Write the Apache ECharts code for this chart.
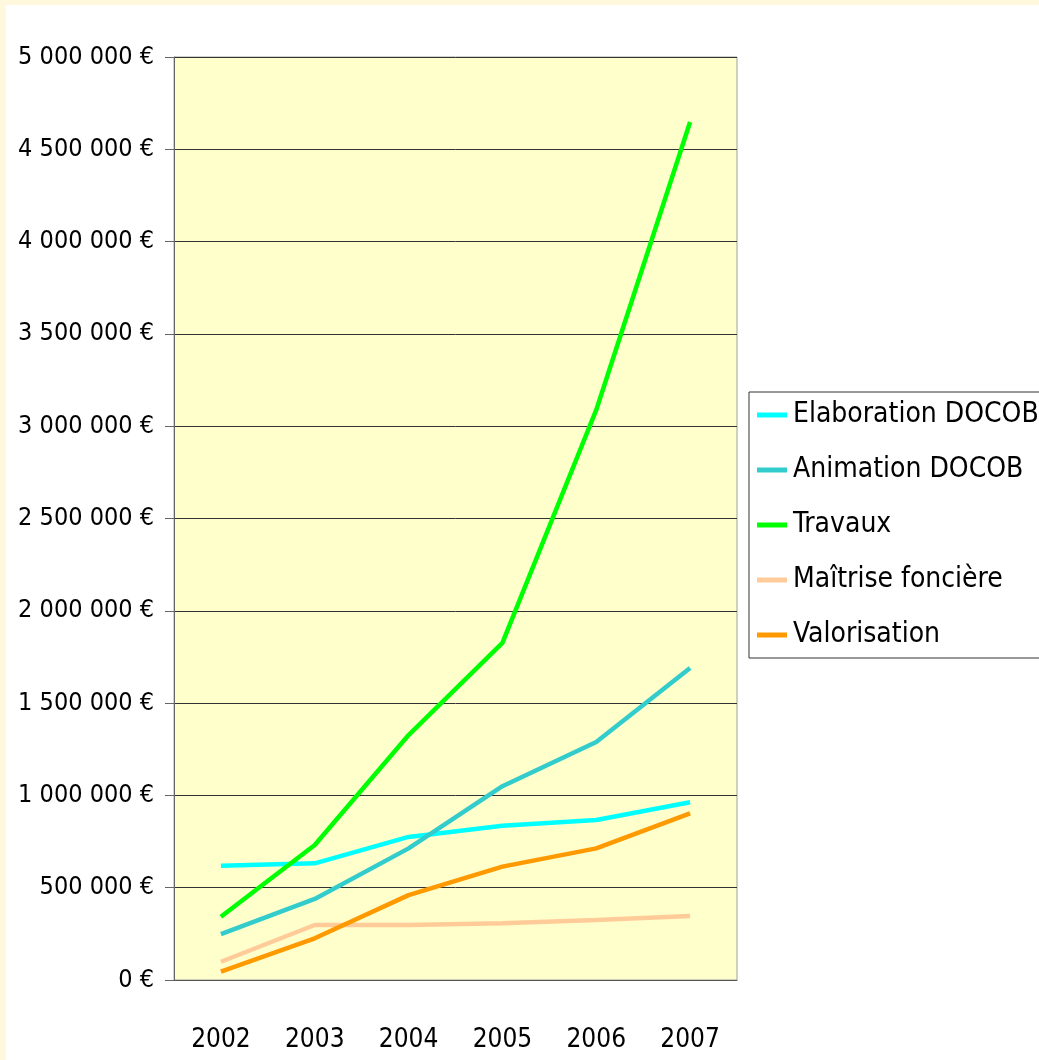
<!DOCTYPE html>
<html><head><meta charset="utf-8">
<script src="https://cdn.jsdelivr.net/npm/echarts@6/dist/echarts.min.js"></script>
<style>
html,body{margin:0;padding:0;background:#FFF8DC;width:1039px;height:1060px;overflow:hidden}
#c{position:absolute;left:6px;top:5px;width:1040px;height:1060px;background:#ffffff}
</style></head><body>
<div id="c"></div>
<script>
var years = ['2002','2003','2004','2005','2006','2007'];
var elaboration = [619000, 632000, 775000, 836000, 867000, 963000];
var animation = [249000, 439000, 713000, 1050000, 1289000, 1690000];
var travaux = [343000, 731000, 1327000, 1826000, 3088000, 4648000];
var maitrise = [99000, 298000, 298000, 307000, 325000, 347000];
var valorisation = [45000, 226000, 460000, 614000, 713000, 903000];
var seriesNames = ['Elaboration DOCOB','Animation DOCOB','Travaux','Maîtrise foncière','Valorisation'];
var seriesColors = ['#00FFFF','#33CCCC','#00FF00','#FFCC99','#FF9900'];
var seriesData = [elaboration, animation, travaux, maitrise, valorisation];

var FONT = "'Liberation Sans Narrow','DejaVu Sans Condensed',sans-serif";
function fmt(v){
  var s = String(Math.round(v));
  return s.replace(/\B(?=(\d{3})+(?!\d))/g, ' ') + ' €';
}
var chart = echarts.init(document.getElementById('c'));
chart.setOption({
  animation:false,
  grid:{left:168, top:52, width:563, height:923, containLabel:false, outerBoundsMode:'none',
        show:true, backgroundColor:'#FFFFCC', borderColor:'#A0A0A0', borderWidth:1},
  legend:{
    orient:'vertical', left:743, top:387,
    backgroundColor:'#ffffff', borderColor:'#333333', borderWidth:1,
    padding:[8,40,8,8],
    itemWidth:30, itemHeight:5, itemGap:25,
    icon:'rect',
    textStyle:{fontFamily:FONT, fontSize:28, color:'#000', lineHeight:30, padding:[0,0,0,1]},
    data:seriesNames
  },
  xAxis:{
    type:'category', data:years, boundaryGap:true,
    axisLine:{lineStyle:{color:'#555555', width:1}},
    axisTick:{length:12, lineStyle:{color:'#666666'}},
    axisLabel:{margin:47, fontFamily:FONT, fontSize:26, color:'#000'}
  },
  yAxis:{
    type:'value', min:0, max:5000000, interval:500000,
    axisLine:{show:true, lineStyle:{color:'#666666', width:1}},
    axisTick:{show:true, length:9, lineStyle:{color:'#666666'}},
    splitLine:{lineStyle:{color:'#333333', width:1}},
    axisLabel:{margin:20, fontFamily:FONT, fontSize:25, color:'#000', formatter:fmt, padding:[3,0,0,0]}
  },
  series: seriesNames.map(function(n,i){
    return {name:n, type:'line', data:seriesData[i], symbol:'none',
      itemStyle:{color:seriesColors[i]},
      lineStyle:{color:seriesColors[i], width:4.5}};
  })
});
</script>
</body></html>
